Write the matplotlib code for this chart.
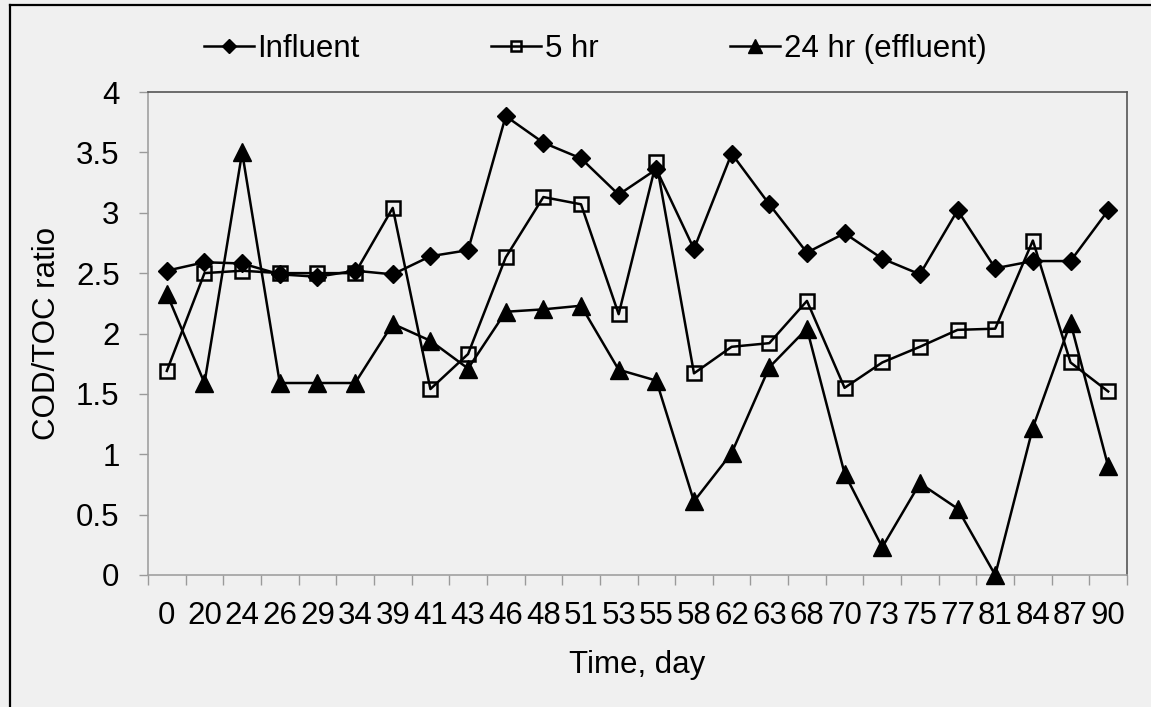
import numpy as np
import matplotlib
matplotlib.use("Agg")
import matplotlib.pyplot as plt
from matplotlib.lines import Line2D

# sampling days (category axis)
days = ["0", "20", "24", "26", "29", "34", "39", "41", "43", "46", "48", "51", "53",
        "55", "58", "62", "63", "68", "70", "73", "75", "77", "81", "84", "87", "90"]

influent = [2.52, 2.59, 2.58, 2.49, 2.47, 2.52, 2.49, 2.64, 2.69, 3.80, 3.58, 3.45, 3.15,
            3.36, 2.70, 3.49, 3.07, 2.67, 2.83, 2.62, 2.49, 3.02, 2.54, 2.60, 2.60, 3.02]
hr5 = [1.69, 2.50, 2.52, 2.50, 2.50, 2.50, 3.04, 1.54, 1.83, 2.63, 3.13, 3.07, 2.16,
       3.42, 1.67, 1.89, 1.92, 2.27, 1.55, 1.76, 1.89, 2.03, 2.04, 2.77, 1.76, 1.52]
hr24 = [2.33, 1.59, 3.50, 1.59, 1.59, 1.59, 2.08, 1.94, 1.71, 2.18, 2.20, 2.23, 1.70,
        1.61, 0.61, 1.01, 1.72, 2.04, 0.84, 0.23, 0.76, 0.55, 0.00, 1.22, 2.09, 0.90]

plt.rcParams["font.family"] = ["Liberation Sans", "DejaVu Sans"]
bg = "#f0f0f0"
W, H = 1151, 707
FS = 22.5

fig = plt.figure(figsize=(W / 100, H / 100), dpi=100, facecolor=bg)
ax = fig.add_axes([148 / W, 1 - 575 / H, (1127 - 148) / W, (575 - 92) / H], facecolor=bg)

x = np.arange(len(days))
ax.plot(x, influent, color="black", lw=1.8, marker="D", ms=9.5, mfc="black", mec="black",
        label="Influent", zorder=3)
ax.plot(x, hr5, color="black", lw=1.8, marker="s", ms=10.5, mfc="none", mec="black",
        mew=1.8, label="5 hr", zorder=3)
ax.plot(x, hr24, color="black", lw=1.8, marker="^", ms=12.5, mfc="black", mec="black",
        label="24 hr (effluent)", zorder=3, clip_on=False)

ax.set_xlim(-0.5, len(days) - 0.5)
ax.set_ylim(0, 4)
ax.set_yticks(np.arange(0, 4.01, 0.5))
ax.set_yticklabels(["0", "0.5", "1", "1.5", "2", "2.5", "3", "3.5", "4"])
ax.set_xticks(np.arange(-0.5, len(days), 1))
ax.set_xticklabels([])
ax.set_xticks(x, minor=True)
ax.set_xticklabels(days, minor=True)

ax.tick_params(axis="y", which="major", direction="out", length=6.5, width=1, color="#9a9a9a",
               labelsize=FS, pad=14)
ax.tick_params(axis="x", which="major", direction="out", length=7, width=1, color="#9a9a9a")
ax.tick_params(axis="x", which="minor", length=0, labelsize=FS, pad=18.5)

for s in ["left", "bottom"]:
    ax.spines[s].set_color("#a0a0a0")
    ax.spines[s].set_linewidth(1.2)
for s in ["top", "right"]:
    ax.spines[s].set_color("#555555")
    ax.spines[s].set_linewidth(1.2)

ax.set_ylabel("COD/TOC ratio", fontsize=FS, labelpad=10)
ax.set_xlabel("Time, day", fontsize=FS, labelpad=14)

ax.legend(loc="lower left", bbox_to_anchor=(0.057, 1.058), ncol=3, frameon=False,
          fontsize=FS, handlelength=1.6, handletextpad=0.12, columnspacing=4.2,
          markerscale=0.75, borderaxespad=0, borderpad=0)

# outer chart frame (top and left edges visible)
fig.add_artist(Line2D([10 / W, 10 / W], [0, 1 - 5 / H], color="black", lw=1.6))
fig.add_artist(Line2D([10 / W, 1], [1 - 5 / H, 1 - 5 / H], color="black", lw=1.6))

fig.savefig("out.png", dpi=100, facecolor=bg)
